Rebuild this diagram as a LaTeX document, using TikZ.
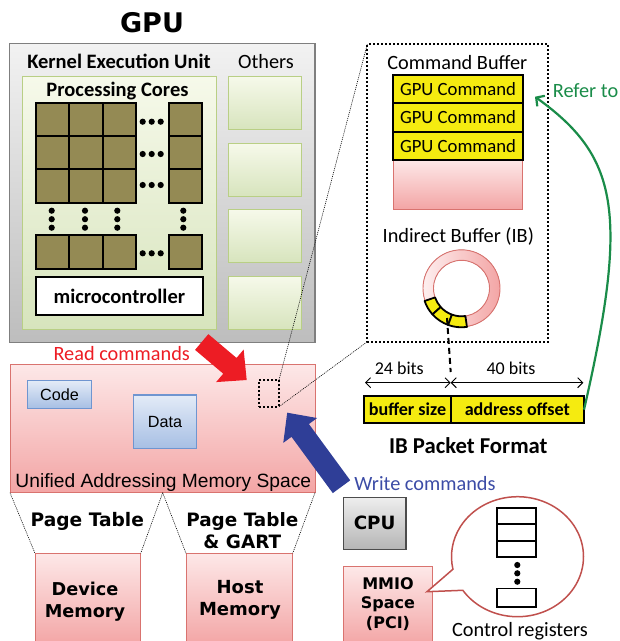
\documentclass[tikz,border=0pt]{standalone}
\usepackage{fontspec}
\setmainfont{Carlito}
\newfontfamily\arialfam{Liberation Sans}
\newfontfamily\heavyfam{DejaVu Sans}
\usetikzlibrary{calc,arrows.meta,shapes.callouts}

\newcommand\fs[2]{\fontsize{#1}{#2}\selectfont}

\definecolor{gpuTop}{HTML}{F2F2F2}
\definecolor{gpuBot}{HTML}{BDBDBD}
\definecolor{gpuEdge}{HTML}{7F7F7F}
\definecolor{grnTop}{HTML}{F6F9EA}
\definecolor{grnBot}{HTML}{D7E4BD}
\definecolor{grnEdge}{HTML}{B9CF85}
\definecolor{coreOlive}{HTML}{948A54}
\definecolor{pinkTop}{HTML}{FDE8E8}
\definecolor{pinkBot}{HTML}{F3A5A5}
\definecolor{pinkEdge}{HTML}{D9736F}
\definecolor{blueTop}{HTML}{E3EBF7}
\definecolor{blueBot}{HTML}{A7BFE4}
\definecolor{blueEdge}{HTML}{6F95D0}
\definecolor{cmdYellow}{HTML}{F5EB10}
\definecolor{referGreen}{HTML}{1A8C49}
\definecolor{readRed}{HTML}{ED1C24}
\definecolor{writeBlue}{HTML}{2F3E97}
\definecolor{writeText}{HTML}{3C4CA6}
\definecolor{bubbleEdge}{HTML}{C0504D}
\definecolor{cpuTop}{HTML}{EEEEEE}
\definecolor{cpuBot}{HTML}{B5B5B5}

% block arrow: tail, tip, shaft half width, head half width, head length, colour
\newcommand\fatarrow[6]{%
  \coordinate (fa-base) at ($(#2)!#5!(#1)$);
  \fill[#6] ($(#1)!#3!90:(#2)$) -- ($(fa-base)!#3!-90:(#1)$)
    -- ($(fa-base)!#4!-90:(#1)$) -- (#2) -- ($(fa-base)!#4!90:(#1)$)
    -- ($(fa-base)!#3!90:(#1)$) -- ($(#1)!#3!-90:(#2)$) -- cycle;}

\begin{document}
\begin{tikzpicture}[x=1pt, y=-1pt, inner sep=0pt, outer sep=0pt,
  sz/.style 2 args={minimum width=#1, minimum height=#2},
  graybox/.style={draw=gpuEdge, line width=1.4, top color=gpuTop, bottom color=gpuBot},
  greenbox/.style={draw=grnEdge, line width=1, top color=grnTop, bottom color=grnBot},
  corecell/.style={draw=black, line width=1.8, fill=coreOlive, sz={33.3}{33.3}},
  pinkbox/.style={draw=pinkEdge, line width=1, top color=pinkTop, bottom color=pinkBot},
  bluebox/.style={draw=blueEdge, line width=1.2, top color=blueTop, bottom color=blueBot},
  yelbox/.style={draw=black, line width=1.8, fill=cmdYellow},
  bigdots/.style={draw=black, line width=1.8, dash pattern=on 2pt off 2pt},
  finedots/.style={draw=black, line width=0.6, dash pattern=on 1pt off 1pt},
  regbox/.style={draw=black, line width=1.6, fill=white},
  body/.style={font=\fs{20.3}{24}},
  bodyb/.style={font=\bfseries\fs{20.5}{24}},
  heavy/.style={font=\heavyfam\bfseries\fs{#1}{22}, align=center},
  blip/.style={fill=black}]
\useasboundingbox (0,0) rectangle (620,641);

% ---------------- GPU ----------------
\node[heavy=27] (gputitle) at (152,23) {GPU};
\node[graybox, sz={305.5}{299}] (gpu) at (162.25,193) {};
\node[bodyb] (keu) at (119,61.7) {Kernel Execution Unit};
\node[body] (others) at (266,61.7) {Others};
\node[greenbox, sz={193.3}{252.6}] (pcbox) at (119.35,203) {};
\node[bodyb] (pctitle) at (117.5,91) {Processing Cores};

\foreach \cx [count=\i] in {52.7,86,119.3,185.5}
  \foreach \cy [count=\j] in {120,153,186,252}
    \node[corecell] (core-\i-\j) at (\cx,\cy) {};

% horizontal ellipses between the columns
\foreach \cy in {121.7,154,185,253.3}
  \foreach \dx in {-9,0,9}
    \fill[blip] (151.7+\dx,\cy) circle[radius=3.1];
% vertical ellipses between the rows
\foreach \cx in {51.7,85,117.3,183.3}
  \foreach \dy in {-8.5,0,8.5}
    \fill[blip] (\cx,219.2+\dy) circle[radius=3.1];

\node[draw=black, line width=1.8, fill=white, sz={166.7}{37.7}] (mc) at (119.35,296.2) {};
\node[bodyb] (mctext) at (mc) {microcontroller};

\foreach \cy [count=\k] in {103.3,170,236,302.7}
  \node[greenbox, sz={73.4}{53.3}] (oth-\k) at (265,\cy) {};

% ---------------- unified memory ----------------
\node[pinkbox, sz={305}{128.7}] (mem) at (162.5,428.35) {};
\node[bluebox, sz={64.4}{27.6}] (code) at (59.5,394.5) {};
\node[font=\arialfam\fs{16.2}{19}] (codetext) at (code) {Code};
\node[bluebox, sz={63.4}{53.3}] (data) at (165,421.65) {};
\node[font=\arialfam\fs{16.2}{19}] (datatext) at (data) {Data};
\node[bigdots, sz={19.7}{26.7}] (ibloc) at (269.15,393.35) {};
\node[font=\arialfam\fs{19.2}{22}] (uams) at (163.3,482.2) {Unified Addressing Memory Space};

% page tables
\coordinate (memmid) at (162.7,492.7);
\node[pinkbox, sz={105.7}{91.7}, anchor=north west] (dev) at (35,553.3) {};
\node[pinkbox, sz={106.7}{91.7}, anchor=north west] (host) at (186,553.3) {};
\draw[finedots] (mem.south west) -- (dev.north west);
\draw[finedots] (memmid) -- (dev.north east);
\draw[finedots] (memmid) -- (host.north west);
\draw[finedots] (mem.south east) -- (host.north east);
\node[heavy=18.6] (pt1) at (87.3,521.7) {Page Table};
\node[heavy=18.4] (pt2) at (242.3,531) {Page Table\\\& GART};
\node[heavy=17.7] (devtext) at (85,601.7) {Device\\Memory};
\node[heavy=18] (hosttext) at (240,599.5) {Host\\Memory};

% ---------------- command buffer detail ----------------
\node[bigdots, sz={181}{297.4}] (cbox) at (457.8,193) {};
\draw[finedots] (ibloc.north east) -- (cbox.north west);
\draw[finedots] (ibloc.south east) -- (cbox.south west);
\node[body] (cbtitle) at (457.3,62.3) {Command Buffer};
\node[pinkbox, draw=none, sz={129.4}{49.3}] (cbfree) at (458,184.65) {};
\draw[pinkEdge, line width=0.8] (cbfree.north west) -- (cbfree.south west) -- (cbfree.south east) -- (cbfree.north east);
\foreach \cy [count=\k] in {89.2,117.5,145.8}
  \node[yelbox, sz={129.4}{28.3}, font=\fs{18.7}{22}] (cmd-\k) at (458,\cy) {GPU Command};

\node[body] (ibtitle) at (458.3,236) {Indirect Buffer (IB)};
\coordinate (ibc) at (461.5,288.3);
\fill[even odd rule, left color=pinkTop!70!white, right color=pinkBot]
  (ibc) circle[radius=38.5] (ibc) circle[radius=28];
\draw[pinkEdge, line width=0.9] (ibc) circle[radius=38.5] (ibc) circle[radius=28];
\foreach \a/\b in {199/222,222/250,250/278}
  \filldraw[fill=cmdYellow, draw=black, line width=1.8, line join=round]
    ($(ibc)+(-\a:28)$) arc[start angle=-\a, end angle=-\b, radius=28]
    -- ($(ibc)+(-\b:39)$) arc[start angle=-\b, end angle=-\a, radius=39] -- cycle;
\coordinate (ibentry) at (447,318);

% IB packet format
\node[yelbox, sz={86.4}{27.3}, font=\bfseries\fs{18.1}{22}] (bsize) at (407.5,409.65) {buffer size};
\node[yelbox, sz={133.3}{27.3}, font=\bfseries\fs{18.1}{22}] (aoff) at (517.35,409.65) {address offset};
\coordinate (split) at (450.7,382.7);
\coordinate (pktl) at (365,382.7);
\coordinate (pktr) at (583.3,382.7);
\draw[black, line width=2, dash pattern=on 6pt off 4pt] (ibentry) -- (split |- 0,372);
\draw[line width=0.9, {Straight Barb[length=5pt,width=10pt]}-{Straight Barb[length=5pt,width=10pt]}] (pktl) -- (split);
\draw[line width=0.9, {Straight Barb[length=5pt,width=10pt]}-{Straight Barb[length=5pt,width=10pt]}] (split) -- (pktr);
\node[font=\fs{18}{22}] (b24) at (399.3,368.3) {24 bits};
\node[font=\fs{18}{22}] (b40) at (511,368.3) {40 bits};
\node[font=\bfseries\fs{22.7}{26}] (ibpf) at (468.3,446) {IB Packet Format};

% refer-to link
\coordinate (refend) at (535,96.7);
\draw[referGreen, line width=2.2, -{Straight Barb[length=6pt,width=13pt]}]
  (aoff.east) .. controls (630,210) and (617,156) .. (refend);
\node[body, text=referGreen] (refer) at (585.5,91) {Refer to};

% ---------------- host side ----------------
\node[draw=black!70, line width=1.2, top color=cpuTop, bottom color=cpuBot, sz={62.7}{52}] (cpu) at (374.65,523.3) {};
\node[heavy=18.3] (cputext) at (cpu) {CPU};
\node[pinkbox, sz={89.4}{78.3}] (mmio) at (388,605.85) {};
\node[font=\heavyfam\bfseries\fs{16}{19.2}, align=center] (mmiotext) at (388,604) {MMIO\\Space\\(PCI)};

\node[ellipse callout, draw=bubbleEdge, line width=1.5, fill=white,
      sz={132}{120}, callout pointer arc=22,
      callout absolute pointer={(427,591.7)}] (bubble) at (517.5,556.7) {};
\foreach \cy [count=\k] in {516.15,532.35,549}
  \node[regbox, sz={39}{16.4}] (reg-\k) at (516.5,\cy) {};
\node[regbox, sz={39}{18.4}] (reg-last) at (516.5,597.5) {};
\foreach \cy in {565,573.3,581.7}
  \fill[blip] (517.3,\cy) circle[radius=3.1];
\node[body] (ctrlregs) at (520,631) {Control registers};

% ---------------- read / write arrows ----------------
\coordinate (rdtail) at (201.7,342);
\coordinate (rdtip) at (246.7,380);
\fatarrow{rdtail}{rdtip}{10.3pt}{21.3pt}{22pt}{readRed}
\node[body, text=readRed] (readlbl) at (121.7,354) {Read commands};

\coordinate (wrtail) at (341.5,486.7);
\coordinate (wrtip) at (287.2,412.7);
\fatarrow{wrtail}{wrtip}{10.8pt}{21pt}{22pt}{writeBlue}
\node[body, text=writeText] (writelbl) at (425,484) {Write commands};
\end{tikzpicture}
\end{document}
